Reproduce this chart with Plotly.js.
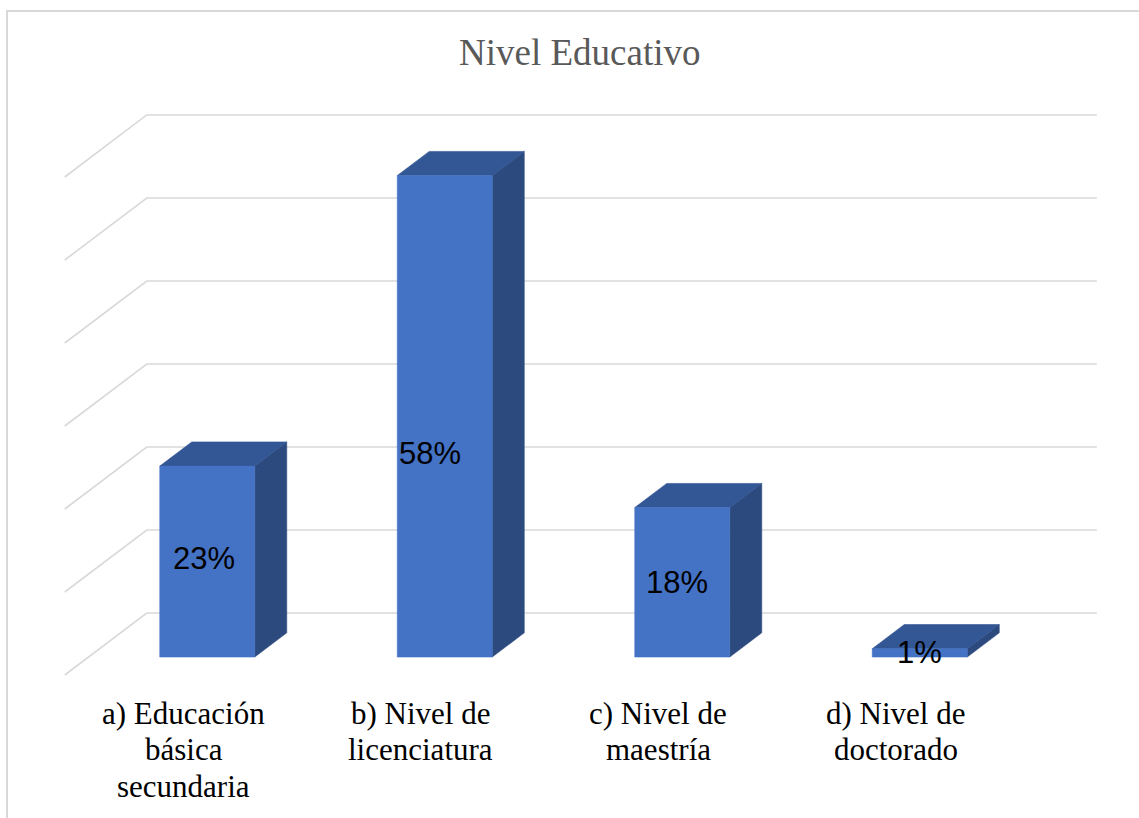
<!DOCTYPE html>
<html>
<head>
<meta charset="utf-8">
<script src="https://cdn.plot.ly/plotly-3.0.1.min.js"></script>
<style>
  html, body { margin: 0; padding: 0; background: #ffffff; }
  #wrap { position: relative; width: 1139px; height: 818px; overflow: hidden; }
  #chart { position: absolute; left: 0; top: 0; width: 1139px; height: 818px; }
  #frame { position: absolute; left: 6px; top: 10px; width: 1200px; height: 900px;
           border: 2px solid #d9d9d9; pointer-events: none; }
</style>
</head>
<body>
<div id="wrap">
  <div id="chart"></div>
  <div id="frame"></div>
</div>
<script>
// Nivel educativo (porcentaje de respuestas)
const categories = [
  "a) Educación<br>básica<br>secundaria",
  "b) Nivel de<br>licenciatura",
  "c) Nivel de<br>maestría",
  "d) Nivel de<br>doctorado"
];
const values = [23, 58, 18, 1];
const valueLabels = ["23%", "58%", "18%", "1%"];
const gridValues = [0, 10, 20, 30, 40, 50, 60];

// Oblique projection used to fake the 3-D look: a point at depth d (0 = front
// of the floor, 1 = back wall) is shifted right by DX*d and up by DY*d.
const DX = 0.3453;   // x-axis units per unit of depth
const DY = 7.47;     // y-axis units per unit of depth
const D0 = 0.29;     // depth of bar front faces
const D1 = 0.68;     // depth of bar back faces
const BAR_W = 0.4;   // bar width in category units

const FRONT = "#4472c4", TOP = "#335694", SIDE = "#2c4a7e";
const GRID = "#d9d9d9";
const SERIF = "Liberation Serif, Times New Roman, serif";

const traces = [];

// back wall gridlines with the left-wall diagonal
gridValues.forEach(v => {
  traces.push({
    type: "scatter", mode: "lines", hoverinfo: "skip", showlegend: false,
    x: [-0.5, -0.5 + DX, categories.length - 0.5 + DX],
    y: [v, v + DY, v + DY],
    line: { color: GRID, width: 1.6 }
  });
});

function poly(xs, ys, color) {
  traces.push({
    type: "scatter", mode: "lines", fill: "toself", hoverinfo: "skip", showlegend: false,
    x: xs.concat([xs[0]]), y: ys.concat([ys[0]]),
    fillcolor: color, line: { color: color, width: 0.6 }
  });
}

const dd = D1 - D0;
values.forEach((v, i) => {
  const xl = i + DX * D0 - BAR_W / 2;
  const xr = xl + BAR_W;
  const y0 = DY * D0;
  const y1 = y0 + v;
  const ox = DX * dd, oy = DY * dd;
  // right side face
  poly([xr, xr + ox, xr + ox, xr], [y0, y0 + oy, y1 + oy, y1], SIDE);
  // top face
  poly([xl, xr, xr + ox, xl + ox], [y1, y1, y1 + oy, y1 + oy], TOP);
  // front face
  poly([xl, xr, xr, xl], [y0, y0, y1, y1], FRONT);
});

// value labels in the middle of each front face
const labelShiftX = [-3, -15, -5, 0];
const labelShiftY = [3, -37, 0, 0];
const annotations = values.map((v, i) => ({
  x: i + DX * D0, y: DY * D0 + v / 2, xref: "x", yref: "y",
  text: valueLabels[i], showarrow: false,
  xshift: labelShiftX[i], yshift: labelShiftY[i],
  font: { family: "Liberation Sans, Arial, sans-serif", size: 31, color: "#000000" }
}));

// category labels under the floor, one annotation per line for tight leading
const LINE_GAP = 36.5;
categories.forEach((cat, i) => {
  cat.split("<br>").forEach((line, k) => {
    annotations.push({
      x: i, y: 0, xref: "x", yref: "paper",
      text: line, showarrow: false, xanchor: "center", yanchor: "middle",
      yshift: -13 - LINE_GAP * k,
      font: { family: SERIF, size: 31, color: "#000000" }
    });
  });
});

const layout = {
  width: 1139, height: 818,
  margin: { l: 40, r: 39, t: 90, b: 118 },
  paper_bgcolor: "#ffffff", plot_bgcolor: "rgba(0,0,0,0)",
  showlegend: false,
  title: {
    text: "Nivel Educativo",
    x: 0.509, xanchor: "center", xref: "container",
    y: 0.936, yanchor: "middle", yref: "container",
    font: { family: SERIF, size: 37, color: "#595959" }
  },
  xaxis: {
    range: [-0.6042, 3.859], fixedrange: true,
    showticklabels: false,
    showgrid: false, zeroline: false, showline: false, ticks: ""
  },
  yaxis: {
    range: [-3.012, 70.48], fixedrange: true, visible: false,
    showgrid: false, zeroline: false
  },
  annotations: annotations
};

Plotly.newPlot("chart", traces, layout, { displayModeBar: false, staticPlot: true });
</script>
</body>
</html>
